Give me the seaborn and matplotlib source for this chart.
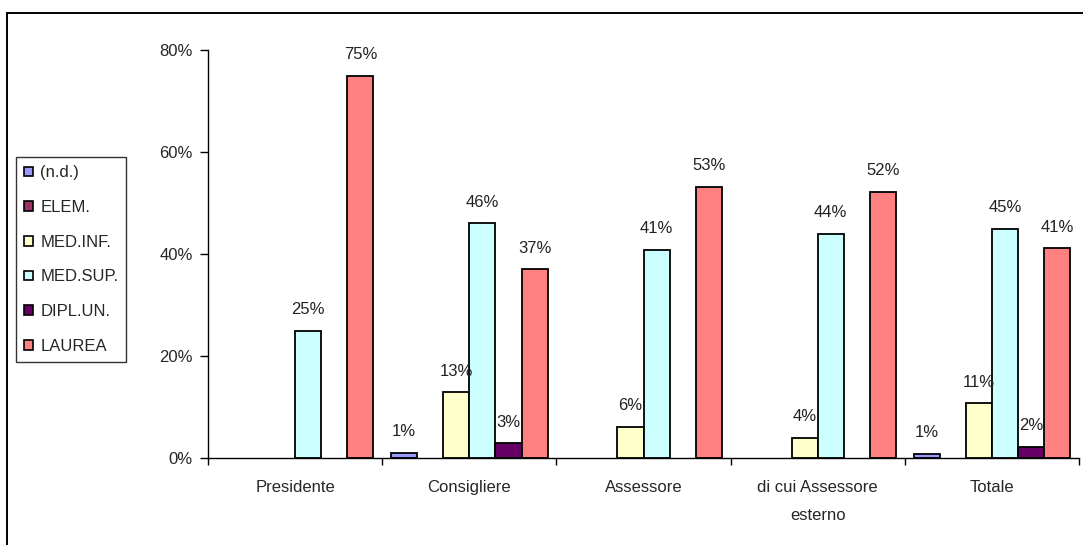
import numpy as np
import pandas as pd
import matplotlib
matplotlib.use("Agg")
import matplotlib.pyplot as plt
from matplotlib.patches import Patch
from matplotlib.lines import Line2D
from matplotlib.ticker import PercentFormatter, FixedLocator
import seaborn as sns

# Education level of office holders, share per role
roles = ["Presidente", "Consigliere", "Assessore", "di cui Assessore\nesterno", "Totale"]
levels = ["(n.d.)", "ELEM.", "MED.INF.", "MED.SUP.", "DIPL.UN.", "LAUREA"]

nd      = [0.000, 0.010, 0.000, 0.000, 0.008]
elem    = [0.000, 0.000, 0.000, 0.000, 0.000]
med_inf = [0.000, 0.129, 0.061, 0.040, 0.107]
med_sup = [0.250, 0.460, 0.408, 0.439, 0.450]
dipl_un = [0.000, 0.029, 0.000, 0.000, 0.022]
laurea  = [0.750, 0.370, 0.532, 0.522, 0.411]

colors = ["#9999FF", "#993366", "#FFFFCC", "#CCFFFF", "#660066", "#FF8080"]

series = [nd, elem, med_inf, med_sup, dipl_un, laurea]
df = pd.DataFrame(
    [(r, lev, v) for lev, vals in zip(levels, series) for r, v in zip(roles, vals)],
    columns=["ruolo", "titolo", "quota"],
)

sns.set_theme(style="white")
plt.rcParams["font.family"] = ["Liberation Sans", "DejaVu Sans"]
FS = 12

fig = plt.figure(figsize=(10.83, 5.45), dpi=100)
W, H = 1083, 545
ax = fig.add_axes([208 / W, 1 - 458 / H, (1079 - 208) / W, (458 - 50) / H])

sns.barplot(
    data=df, x="ruolo", y="quota", hue="titolo",
    order=roles, hue_order=levels, palette=colors,
    width=0.9, edgecolor="black", linewidth=1.3,
    errorbar=None, legend=False, ax=ax, saturation=1,
)

# value labels above non-zero bars; empty bars stay invisible
for cont in ax.containers:
    for bar in cont:
        h = bar.get_height()
        if h > 0:
            ax.annotate(f"{h * 100:.0f}%",
                        (bar.get_x() + bar.get_width() / 2, h),
                        xytext=(0, 12), textcoords="offset points",
                        ha="center", va="baseline", fontsize=FS, color="#222222")
        else:
            bar.set_linewidth(0)

ax.set_ylim(0, 0.8)
ax.set_xlim(-0.5, len(roles) - 0.5)
ax.set_yticks([0, 0.2, 0.4, 0.6, 0.8])
ax.yaxis.set_major_formatter(PercentFormatter(1.0, decimals=0))
ax.set_xlabel("")
ax.set_ylabel("")

for s in ["top", "right"]:
    ax.spines[s].set_visible(False)
for s in ["left", "bottom"]:
    ax.spines[s].set_color("black")
    ax.spines[s].set_linewidth(1.0)
    ax.spines[s].set_zorder(5)

ax.tick_params(axis="y", which="major", direction="out", length=6, width=1,
               color="black", labelsize=FS, pad=5, left=True)
ax.tick_params(axis="x", which="major", length=0, labelsize=FS, pad=16)
ax.xaxis.set_minor_locator(FixedLocator(np.arange(len(roles) + 1) - 0.5))
ax.tick_params(axis="x", which="minor", direction="out", length=5, width=1,
               color="black", bottom=True)
for lbl in ax.get_xticklabels():
    lbl.set_linespacing(2.05)
    lbl.set_va("top")

handles = [Patch(facecolor=c, edgecolor="black", linewidth=1.2) for c in colors]
leg = fig.legend(handles, levels, loc="upper left",
                 bbox_to_anchor=(16 / W, 1 - 157 / H), borderaxespad=0,
                 frameon=True, fancybox=False, fontsize=FS,
                 handlelength=0.5, handleheight=0.5, handletextpad=0.45,
                 labelspacing=1.18, borderpad=0.5)
leg.get_frame().set_edgecolor("black")
leg.get_frame().set_linewidth(1.0)

# outer chart frame
fig.add_artist(Line2D([7 / W, 1.0], [1 - 13 / H, 1 - 13 / H],
                      transform=fig.transFigure, color="black", lw=1.4))
fig.add_artist(Line2D([7 / W, 7 / W], [1 - 13 / H, 0.0],
                      transform=fig.transFigure, color="black", lw=1.4))

fig.savefig("out.png", dpi=100, facecolor="white")
